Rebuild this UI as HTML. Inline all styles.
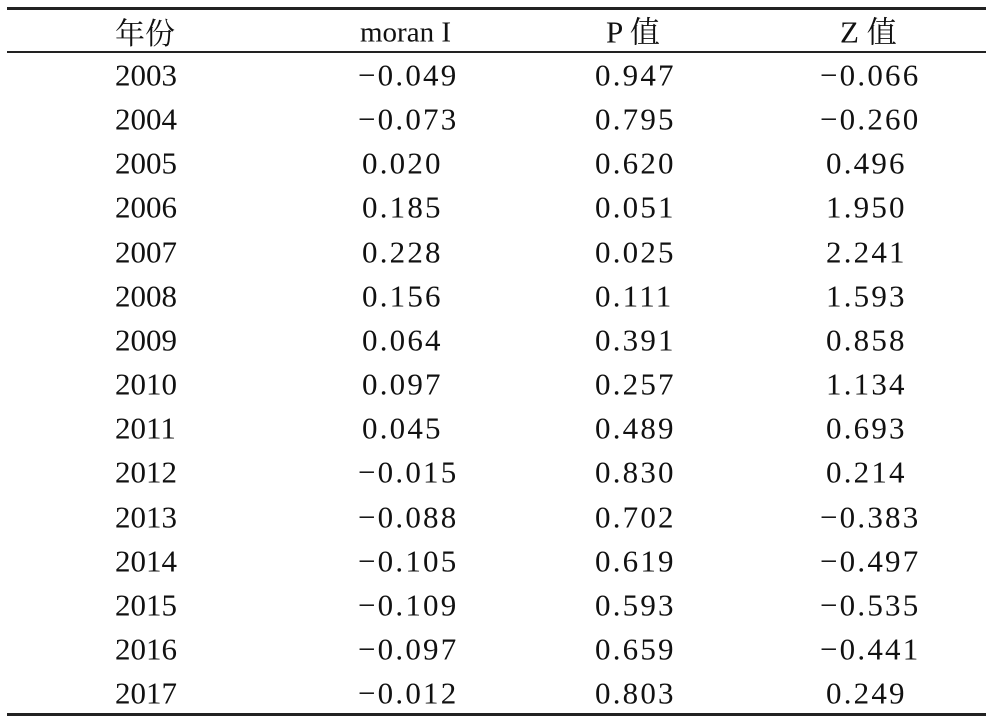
<!DOCTYPE html>
<html><head><meta charset="utf-8"><style>
body{margin:0;background:#fff;}
#t{position:relative;width:992px;height:720px;font-family:"Liberation Serif","Noto Serif CJK SC",serif;color:#111;font-size:31px;}
.r{position:absolute;left:7px;width:979px;background:#222;}
.c{position:absolute;line-height:1;white-space:nowrap;transform:translateY(-50%);}
.n{letter-spacing:2.2px;}
.cjk{font-family:"Noto Serif CJK SC","Noto Sans CJK SC",serif;font-size:30px;}
</style></head><body>
<div id="t">
<div class="r" style="top:7px;height:3px"></div>
<div class="r" style="top:51px;height:2px"></div>
<div class="r" style="top:713px;height:3px"></div>
<div class="c cjk" style="left:115px;top:31px">年份</div>
<div class="c" style="left:360px;top:33px;font-size:29px">moran I</div>
<div class="c" style="left:606px;top:31px">P <span class="cjk">值</span></div>
<div class="c" style="left:840px;top:31px">Z <span class="cjk">值</span></div>
</div>
<script>
const years=["2003","2004","2005","2006","2007","2008","2009","2010","2011","2012","2013","2014","2015","2016","2017"];
const moran=["−0.049","−0.073","0.020","0.185","0.228","0.156","0.064","0.097","0.045","−0.015","−0.088","−0.105","−0.109","−0.097","−0.012"];
const pvals=["0.947","0.795","0.620","0.051","0.025","0.111","0.391","0.257","0.489","0.830","0.702","0.619","0.593","0.659","0.803"];
const zvals=["−0.066","−0.260","0.496","1.950","2.241","1.593","0.858","1.134","0.693","0.214","−0.383","−0.497","−0.535","−0.441","0.249"];
const t=document.getElementById('t');
function cell(txt,x,y,name,num){
  const d=document.createElement('div');
  d.className='c'+(num?' n':'');
  d.style.left=x+'px';d.style.top=y+'px';d.textContent=txt;
  
  
  t.appendChild(d);
}
years.forEach((y,i)=>{
  const yy=75+i*44.15;
  cell(y,115,yy,'year-cell',false);
  const m=moran[i];cell(m,m[0]==='−'?358:362,yy,'moran-cell',true);
  cell(pvals[i],595,yy,'p-cell',true);
  const z=zvals[i];cell(z,z[0]==='−'?820:826,yy,'z-cell',true);
});
</script>
</body></html>
